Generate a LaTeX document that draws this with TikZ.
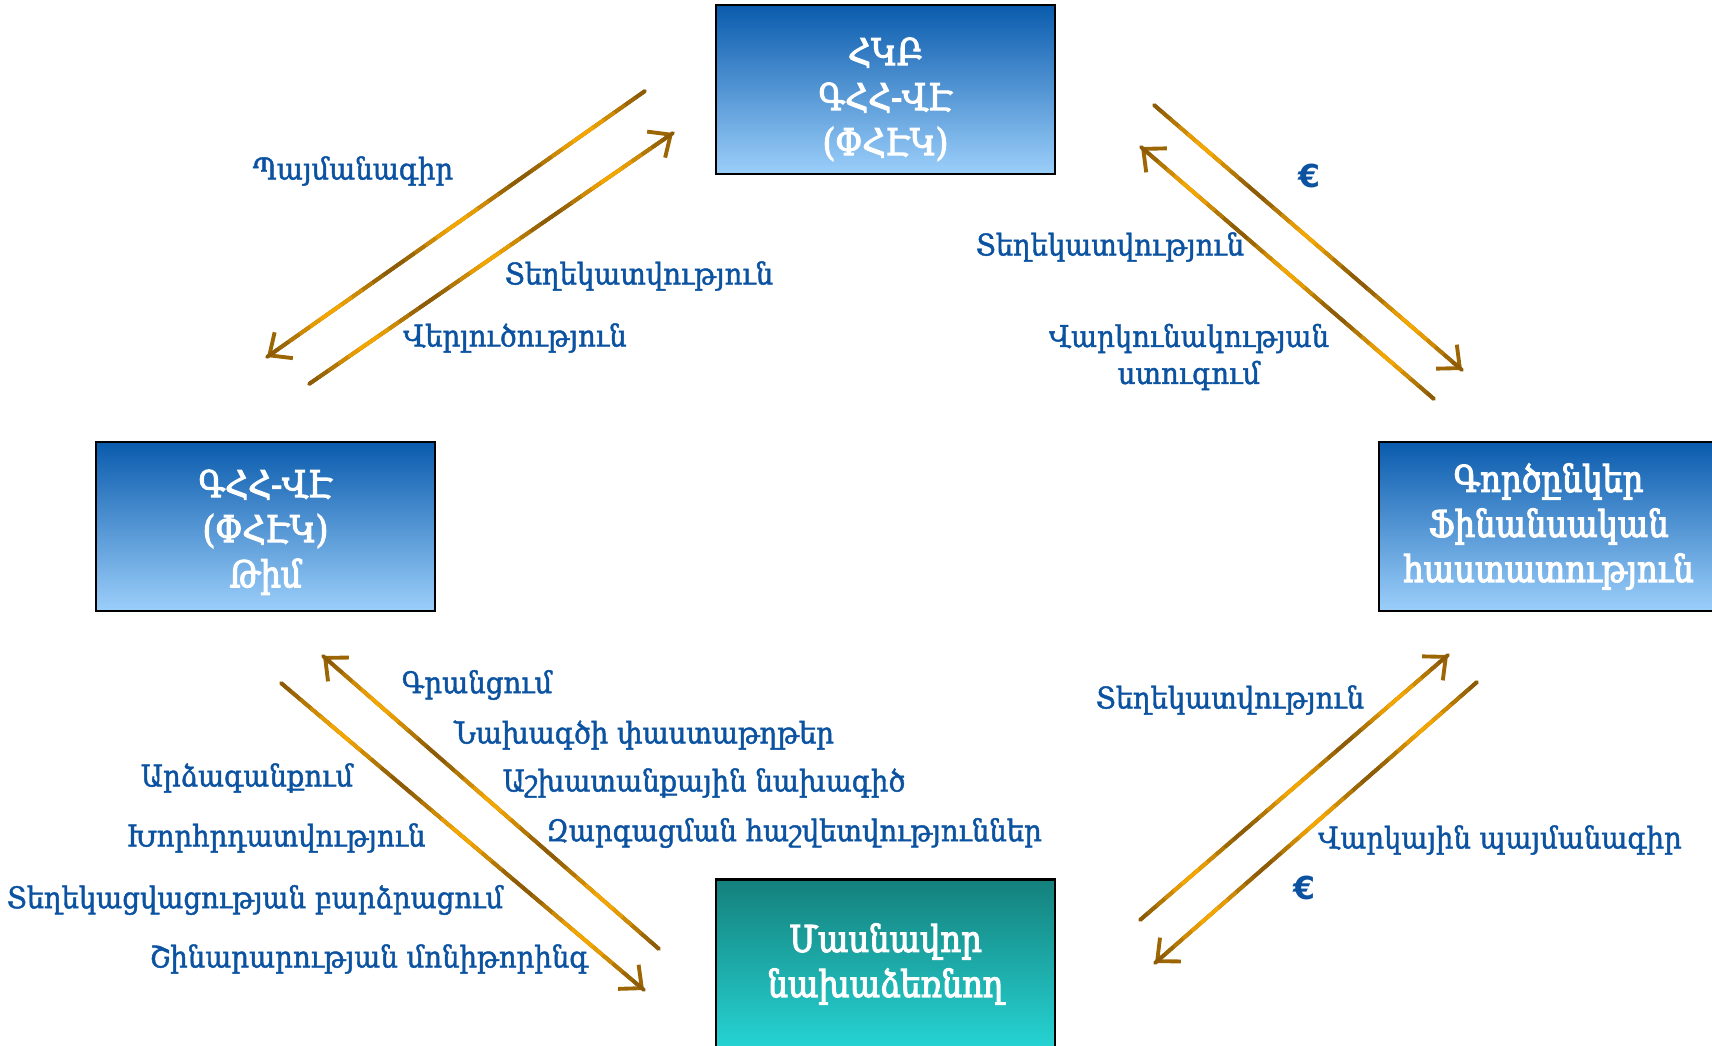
\documentclass[tikz,border=0pt]{standalone}
\usepackage{fontspec}
\setmainfont{DejaVu Serif}
\newfontfamily\boxfont[FakeBold=3, FakeStretch=0.87]{DejaVu Serif}
\newfontfamily\labelfont[FakeBold=1.5, FakeStretch=0.92]{DejaVu Serif}
\newfontfamily\eurofont{DejaVu Sans}
\usetikzlibrary{positioning, calc, arrows.meta}
\definecolor{boxtop}{HTML}{0A5BAD}
\definecolor{boxbot}{HTML}{9CCFFA}
\definecolor{tealtop}{HTML}{14807C}
\definecolor{tealbot}{HTML}{26D4D4}
\definecolor{labelblue}{HTML}{0B52A0}
\definecolor{arrowdark}{HTML}{8C5B06}
\definecolor{arroworange}{HTML}{F5A600}
\tikzset{>={Straight Barb[length=5pt, width=9pt]}}
\tikzset{
  partybox/.style={draw, line width=0.7pt, top color=boxtop, bottom color=boxbot,
    minimum width=3.39cm, minimum height=1.69cm, align=center, text=white,
    font=\boxfont\fontsize{10.5}{12.8}\selectfont},
  flow/.style={->, draw=arrowdark!85!arroworange, line width=1.1pt},
  lbl/.style={text=labelblue, font=\labelfont\fontsize{8.5}{10.5}\selectfont, align=center},
  euro/.style={lbl, font=\eurofont\bfseries\fontsize{9}{11}\selectfont}
}
\newcommand{\boxgap}[1]{\rule{0pt}{#1}}

\begin{document}
\begin{tikzpicture}[x=0.01cm, y={(0cm,-0.01cm)}]
  \useasboundingbox (0,0) rectangle (1712,1045);

  % Parties
  \node[partybox] (hkb) at (885.5,89.5) {\boxgap{13.3pt}ՀԿԲ\\ԳՀՀ-ՎԷ\\(ՓՀԷԿ)};
  \node[partybox] (team) at (265.5,526.5) {\boxgap{11.1pt}ԳՀՀ-ՎԷ\\(ՓՀԷԿ)\\Թիմ};
  \node[partybox] (bank) at (1548.5,526.5) {Գործընկեր\\Ֆինանսական\\հաստատություն};
  \node[partybox, top color=tealtop, bottom color=tealbot] (owner) at (885.5,964) {Մասնավոր\\նախաձեռնող};

  % Arrow ends
  \coordinate (a1s) at (645,91);   \coordinate (a1e) at (267,357);
  \coordinate (a2s) at (309,384);  \coordinate (a2e) at (673,133);
  \coordinate (a3s) at (1154,105); \coordinate (a3e) at (1462,370);
  \coordinate (a4s) at (1434,399); \coordinate (a4e) at (1141,147);
  \coordinate (a5s) at (659,949);  \coordinate (a5e) at (323,656);
  \coordinate (a6s) at (281,683);  \coordinate (a6e) at (644,990);
  \coordinate (a7s) at (1140,920); \coordinate (a7e) at (1448,655);
  \coordinate (a8s) at (1477,682); \coordinate (a8e) at (1155,963);

  % Arrows, with the brown/orange banding laid over the shaft
  \foreach \a in {1,...,8}{
    \draw[flow] (a\a s) -- (a\a e);
    \foreach \i in {1,...,36}{
      \pgfmathsetmacro\ta{(\i-1)/36}
      \pgfmathsetmacro\tb{\i/36}
      \pgfmathsetmacro\mix{50+50*cos(30*(\i-0.5))}
      \draw[draw=arrowdark!\mix!arroworange, line width=1.1pt, line cap=round]
        ($(a\a s)!\ta!(a\a e)$) -- ($(a\a s)!\tb!(a\a e)$);
    }
  }

  % Labels, top left
  \node[lbl] (contract) at (353,171) {Պայմանագիր};
  \node[lbl] (info1) at (639,276) {Տեղեկատվություն};
  \node[lbl] (analysis) at (515,338) {Վերլուծություն};

  % Labels, top right
  \node[euro] (euro1) at (1309,176) {€};
  \node[lbl] (info2) at (1110,247) {Տեղեկատվություն};
  \node[lbl] (credit) at (1189,357) {Վարկունակության\\ստուգում};

  % Labels, bottom left
  \node[lbl] (reg) at (477,685) {Գրանցում};
  \node[lbl] (docs) at (644,735) {Նախագծի փաստաթղթեր};
  \node[lbl] (design) at (704,783) {Աշխատանքային նախագիծ};
  \node[lbl] (reports) at (794,833) {Զարգացման հաշվետվություններ};
  \node[lbl] (feedback) at (247,778) {Արձագանքում};
  \node[lbl] (advice) at (276,838) {Խորհրդատվություն};
  \node[lbl] (aware) at (255,900) {Տեղեկացվացության բարձրացում};
  \node[lbl] (monitor) at (369,959) {Շինարարության մոնիթորինգ};

  % Labels, bottom right
  \node[lbl] (info3) at (1230,700) {Տեղեկատվություն};
  \node[lbl] (loan) at (1500,840) {Վարկային պայմանագիր};
  \node[euro] (euro2) at (1304,888) {€};
\end{tikzpicture}
\end{document}
